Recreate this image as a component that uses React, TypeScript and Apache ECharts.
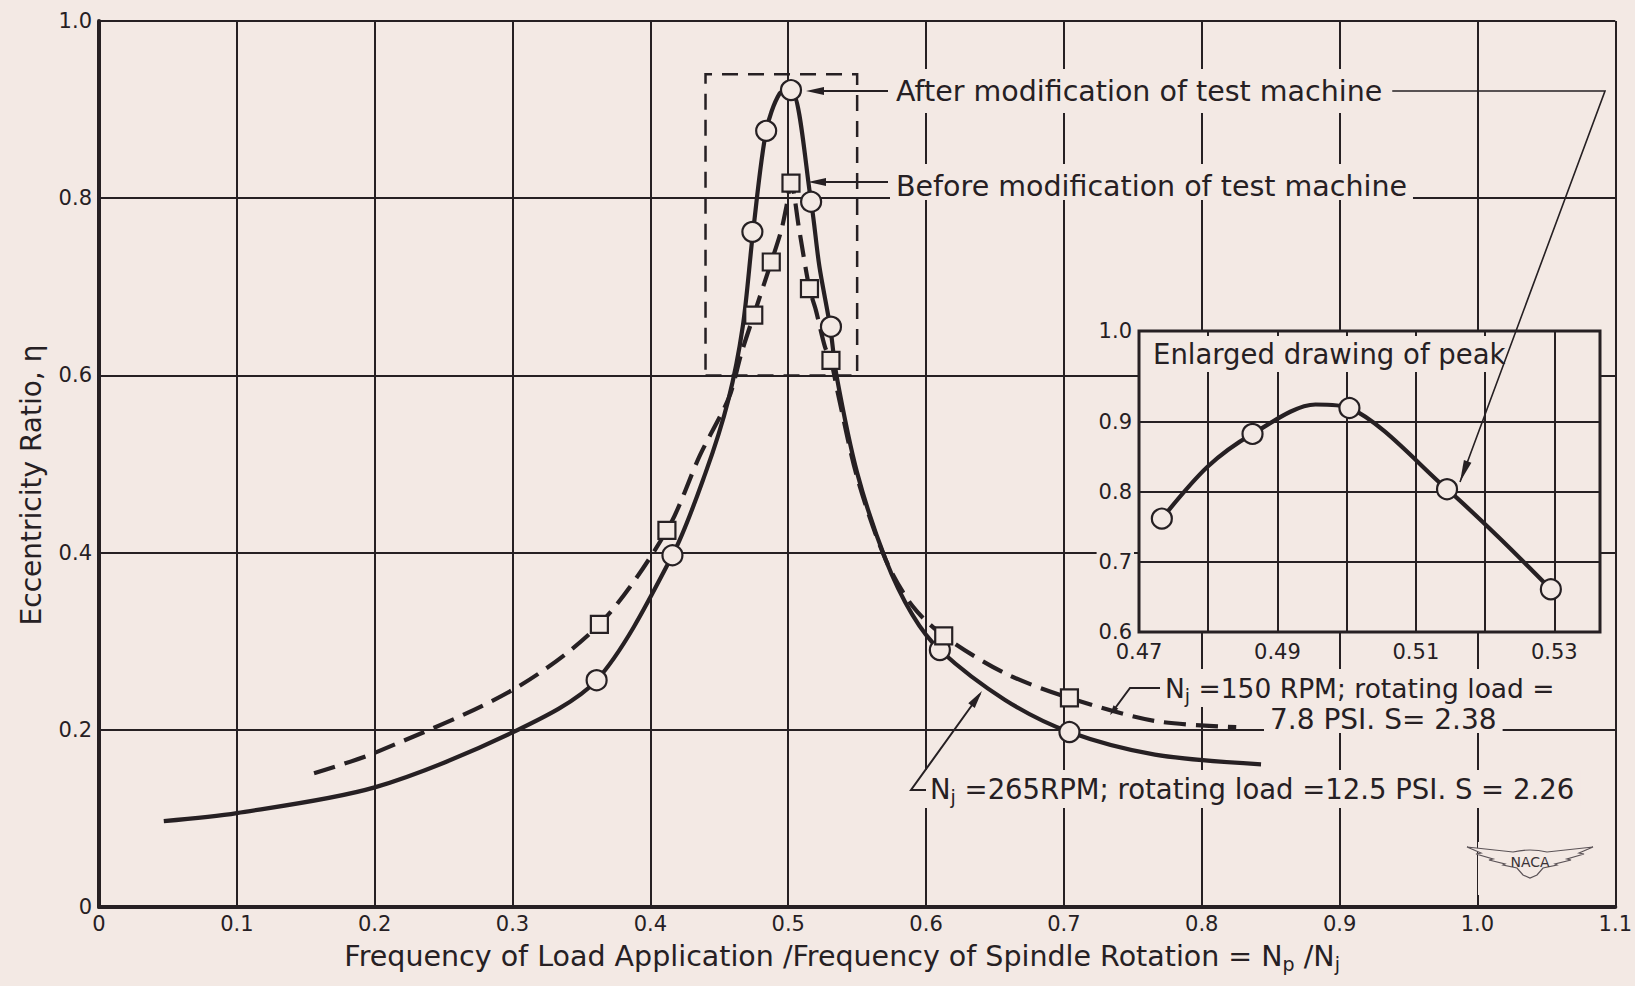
import React, { useEffect, useRef } from "react";
import * as echarts from "echarts";

const PAPER = "#f3e9e4";
const INK = "#262023";
const FONT = '"DejaVu Sans", "Liberation Sans", sans-serif';

// ---------- main chart tick labels ----------
const xTickLabels = ["0", "0.1", "0.2", "0.3", "0.4", "0.5", "0.6", "0.7", "0.8", "0.9", "1.0", "1.1"];
const yTickLabels = ["0", "0.2", "0.4", "0.6", "0.8", "1.0"];

// ---------- after modification (circles, solid curve) ----------
const afterPointX = [0.361, 0.416, 0.474, 0.484, 0.502, 0.5166, 0.531, 0.61, 0.704];
const afterPointY = [0.256, 0.397, 0.762, 0.876, 0.922, 0.796, 0.655, 0.29, 0.1975];
const afterCurveX = [0.047, 0.1, 0.2, 0.3, 0.361, 0.416, 0.44, 0.4565, 0.467, 0.4745, 0.484, 0.4937, 0.502, 0.5166, 0.5226, 0.5305, 0.535, 0.55, 0.5707, 0.59, 0.61, 0.657, 0.704, 0.766, 0.843];
const afterCurveY = [0.097, 0.106, 0.135, 0.197, 0.256, 0.397, 0.49, 0.572, 0.655, 0.762, 0.876, 0.918, 0.922, 0.796, 0.723, 0.654, 0.6, 0.49, 0.392, 0.33, 0.29, 0.234, 0.1975, 0.172, 0.161];

// ---------- before modification (squares, dashed curve) ----------
const beforePointX = [0.363, 0.412, 0.475, 0.4877, 0.502, 0.5154, 0.531, 0.6128, 0.704];
const beforePointY = [0.319, 0.425, 0.668, 0.728, 0.817, 0.698, 0.617, 0.306, 0.236];
const beforeCurveX = [0.156, 0.2, 0.3, 0.363, 0.412, 0.436, 0.457, 0.466, 0.475, 0.4877, 0.495, 0.4986, 0.502, 0.508, 0.5154, 0.52, 0.5267, 0.531, 0.536, 0.55, 0.5707, 0.59, 0.6128, 0.657, 0.704, 0.766, 0.825];
const beforeCurveY = [0.151, 0.174, 0.245, 0.319, 0.425, 0.51, 0.575, 0.625, 0.668, 0.728, 0.764, 0.79, 0.817, 0.764, 0.698, 0.674, 0.632, 0.617, 0.58, 0.485, 0.392, 0.34, 0.306, 0.264, 0.236, 0.21, 0.203];

// dashed box around the peak: [x0, y0, x1, y1]
const peakBox = [0.44, 0.6, 0.55, 0.94];

// ---------- inset (enlarged peak) ----------
const insetXTickLabels = ["0.47", "0.49", "0.51", "0.53"];
const insetYTickLabels = ["0.6", "0.7", "0.8", "0.9", "1.0"];
const insetPointX = [0.4733, 0.4864, 0.5004, 0.5145, 0.5295];
const insetPointY = [0.762, 0.883, 0.92, 0.804, 0.661];
const insetCurveX = [0.4733, 0.4799, 0.4864, 0.4955, 0.5004, 0.5145, 0.522, 0.5295];
const insetCurveY = [0.762, 0.836, 0.883, 0.925, 0.92, 0.804, 0.735, 0.661];

const zip = (xs: number[], ys: number[]) => xs.map((x, i) => [x, ys[i]]);

const WINGS =
  "M0 4 L46 9 Q63 5 80 9 L126 4 L112 10 L117 11 L100 16 L104 17 L88 21 L90 22 L76 25 L70 32 L63 35 L56 32 L50 25 L36 22 L38 21 L22 17 L26 16 L9 11 L14 10 Z";
echarts.graphic.registerShape("nacaWings", echarts.graphic.extendPath(WINGS, {}));

function measure(text: string, size: number): number {
  const ctx = document.createElement("canvas").getContext("2d");
  if (!ctx) return text.length * size * 0.55;
  ctx.font = `${size}px "DejaVu Sans"`;
  return ctx.measureText(text).width;
}

function arrowHead(tip: number[], from: number[], len = 18, half = 4): number[][] {
  const dx = tip[0] - from[0];
  const dy = tip[1] - from[1];
  const d = Math.hypot(dx, dy);
  const ux = dx / d;
  const uy = dy / d;
  const bx = tip[0] - ux * len;
  const by = tip[1] - uy * len;
  return [tip, [bx - uy * half, by + ux * half], [bx + uy * half, by - ux * half]];
}

const SUB = { fontSize: 19, fontFamily: FONT, lineHeight: 20, padding: [16, 0, 0, 0] };

function label(x: number, y: number, text: string, size: number, pad: number[], lh: number, z = 1) {
  return {
    type: "text",
    x: x - pad[3],
    y,
    z,
    style: {
      text,
      fill: INK,
      fontSize: size,
      fontFamily: FONT,
      lineHeight: lh,
      align: "left",
      verticalAlign: "middle",
      backgroundColor: PAPER,
      padding: pad,
      rich: { s: SUB },
    },
  };
}

export default function App() {
  const ref = useRef<HTMLDivElement>(null);

  useEffect(() => {
    if (!ref.current) return;
    const chart = echarts.init(ref.current, null, { renderer: "svg" });

    const afterText = "After modification of test machine";
    const beforeText = "Before modification of test machine";
    const afterLeft = 896;
    const afterY = 91;
    const beforeY = 182;
    const wAfter = measure(afterText, 28.5);
    const extStart = afterLeft + wAfter + 10;
    const corner = [1605, 91];
    const diagTip = [1460, 482];

    const axisFont = { color: INK, fontFamily: FONT, fontSize: 21 };

    const option: any = {
      animation: false,
      backgroundColor: PAPER,
      grid: [
        { left: 99, right: 9, top: 21, bottom: 79, show: false },
        {
          left: 1139, right: 35, top: 331, bottom: 354, show: true, z: 3,
          backgroundColor: PAPER, borderColor: INK, borderWidth: 3,
        },
      ],
      xAxis: [
        {
          gridIndex: 0, type: "value", min: 0, max: 1.1, interval: 0.1,
          axisLine: { show: true, onZero: false, lineStyle: { color: INK, width: 4 } },
          axisTick: { show: false },
          splitLine: { show: true, lineStyle: { color: INK, width: 2 } },
          axisLabel: { ...axisFont, margin: 6, formatter: (v: number) => xTickLabels[Math.round(v * 10)] ?? "" },
          name: "Frequency of Load Application /Frequency of Spindle Rotation = N{s|p} /N{s|j}",
          nameLocation: "middle",
          nameGap: 28,
          nameTextStyle: {
            color: INK, fontFamily: FONT, fontSize: 28.5, padding: [0, 30, 0, 0],
            rich: { s: { ...SUB, fontSize: 19 } },
          },
        },
        {
          gridIndex: 1, type: "value", min: 0.47, max: 0.5366, interval: 0.01, z: 4,
          axisLine: { show: false }, axisTick: { show: false },
          splitLine: { show: true, lineStyle: { color: INK, width: 2 } },
          axisLabel: {
            ...axisFont, margin: 9,
            formatter: (v: number) => {
              const k = Math.round(v * 100);
              if (Math.abs(v * 100 - k) > 0.05 || k % 2 === 0) return "";
              return insetXTickLabels[(k - 47) / 2] ?? "";
            },
          },
        },
      ],
      yAxis: [
        {
          gridIndex: 0, type: "value", min: 0, max: 1.0, interval: 0.2,
          axisLine: { show: true, onZero: false, lineStyle: { color: INK, width: 4 } },
          axisTick: { show: false },
          splitLine: { show: true, lineStyle: { color: INK, width: 2 } },
          axisLabel: { ...axisFont, margin: 7, formatter: (v: number) => yTickLabels[Math.round(v * 5)] ?? "" },
          name: "Eccentricity Ratio, η",
          nameLocation: "middle",
          nameGap: 54,
          nameRotate: 90,
          nameTextStyle: { color: INK, fontFamily: FONT, fontSize: 28, padding: [0, 42, 0, 0] },
        },
        {
          gridIndex: 1, type: "value", min: 0.6, max: 1.03, interval: 0.1, z: 4,
          axisLine: { show: false }, axisTick: { show: false },
          splitLine: {
            show: true,
            lineStyle: { color: [INK, INK, INK, INK, "rgba(0,0,0,0)", INK], width: 2 },
          },
          axisLabel: {
            ...axisFont, margin: 5, backgroundColor: PAPER, padding: [1, 2],
            formatter: (v: number) => {
              if (v > 1.01) return insetYTickLabels[4];
              if (Math.abs(v - 1) < 0.001) return "";
              return insetYTickLabels[Math.round((v - 0.6) * 10)] ?? "";
            },
          },
        },
      ],
      series: [
        {
          type: "line", xAxisIndex: 0, yAxisIndex: 0, data: zip(afterCurveX, afterCurveY),
          smooth: 0.3, showSymbol: false, lineStyle: { color: INK, width: 4.2 }, z: 2,
          markArea: {
            silent: true,
            itemStyle: { color: "rgba(0,0,0,0)", borderColor: INK, borderWidth: 2.5, borderType: [16, 10] },
            data: [[{ xAxis: peakBox[0], yAxis: peakBox[1] }, { xAxis: peakBox[2], yAxis: peakBox[3] }]],
          },
        },
        {
          type: "line", xAxisIndex: 0, yAxisIndex: 0, data: zip(beforeCurveX, beforeCurveY),
          smooth: 0.3, showSymbol: false, lineStyle: { color: INK, width: 4.2, type: [22, 10] }, z: 2,
        },
        {
          type: "scatter", xAxisIndex: 0, yAxisIndex: 0, data: zip(afterPointX, afterPointY),
          symbol: "circle", symbolSize: 20, z: 4,
          itemStyle: { color: PAPER, borderColor: INK, borderWidth: 2.2, opacity: 1 },
        },
        {
          type: "scatter", xAxisIndex: 0, yAxisIndex: 0, data: zip(beforePointX, beforePointY),
          symbol: "rect", symbolSize: 17, z: 4,
          itemStyle: { color: PAPER, borderColor: INK, borderWidth: 2.2, opacity: 1 },
        },
        {
          type: "line", xAxisIndex: 1, yAxisIndex: 1, data: zip(insetCurveX, insetCurveY),
          smooth: 0.3, showSymbol: false, lineStyle: { color: INK, width: 4.2 }, z: 5,
        },
        {
          type: "scatter", xAxisIndex: 1, yAxisIndex: 1, data: zip(insetPointX, insetPointY),
          symbol: "circle", symbolSize: 20, z: 6,
          itemStyle: { color: PAPER, borderColor: INK, borderWidth: 2.2, opacity: 1 },
        },
      ],
      graphic: [
        label(afterLeft, afterY, afterText, 28.5, [6, 6, 6, 6], 32),
        label(afterLeft, beforeY, beforeText, 28.5, [8, 6, 0, 6], 28),
        { type: "line", z: 1, shape: { x1: 888, y1: afterY, x2: 816, y2: afterY }, style: { stroke: INK, lineWidth: 2 } },
        { type: "polygon", z: 1, shape: { points: arrowHead([806, afterY], [888, afterY], 18, 4) }, style: { fill: INK } },
        { type: "line", z: 1, shape: { x1: 888, y1: beforeY, x2: 818, y2: beforeY }, style: { stroke: INK, lineWidth: 2 } },
        { type: "polygon", z: 1, shape: { points: arrowHead([808, beforeY], [888, beforeY], 18, 4) }, style: { fill: INK } },
        {
          type: "polyline", z: 60,
          shape: { points: [[extStart, afterY], corner, diagTip] },
          style: { stroke: INK, lineWidth: 1.6, fill: null },
        },
        { type: "polygon", z: 60, shape: { points: arrowHead(diagTip, corner, 22, 4) }, style: { fill: INK } },

        label(1165, 688, "N{s|j} =150 RPM; rotating load =", 26.5, [4, 6, 4, 6], 30),
        label(1270, 719, "7.8 PSI. S= 2.38", 28, [1, 6, 1, 6], 26),
        {
          type: "polyline", z: 1, shape: { points: [[1160, 688], [1130, 688], [1113, 711]] },
          style: { stroke: INK, lineWidth: 2, fill: null },
        },
        { type: "polygon", z: 1, shape: { points: arrowHead([1110, 715], [1130, 688], 10, 3) }, style: { fill: INK } },

        label(930, 789, "N{s|j} =265RPM; rotating load =12.5 PSI. S = 2.26", 27.5, [4, 6, 4, 6], 30),
        {
          type: "polyline", z: 1, shape: { points: [[926, 790], [911, 790], [980, 694]] },
          style: { stroke: INK, lineWidth: 2, fill: null },
        },
        { type: "polygon", z: 1, shape: { points: arrowHead([982, 691], [911, 790], 18, 4) }, style: { fill: INK } },

        label(1153, 354, "Enlarged drawing of peak", 27.5, [3, 3, 3, 3], 30, 10),

        { type: "rect", z: 1, shape: { x: 1478, y: 842, width: 14, height: 53 }, style: { fill: PAPER } },
        {
          type: "nacaWings", z: 1, x: 1467, y: 843,
          style: { fill: PAPER, stroke: "#5b5357", lineWidth: 1.2 },
        },
        {
          type: "text", z: 1, x: 1530, y: 862,
          style: { text: "NACA", fill: "#3a3336", fontSize: 14, fontFamily: FONT, align: "center", verticalAlign: "middle" },
        },
      ],
    };

    chart.setOption(option);
    return () => chart.dispose();
  }, []);

  return (
    <div
      ref={ref}
      style={{ position: "absolute", left: 0, top: 0, width: 1635, height: 986, background: PAPER }}
    />
  );
}
